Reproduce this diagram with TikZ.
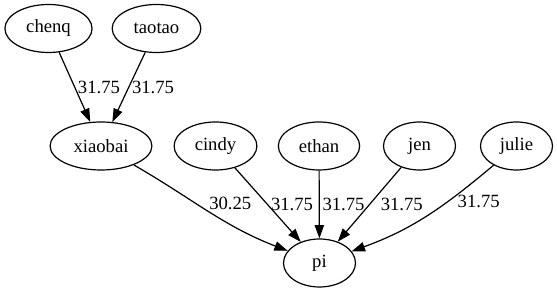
\documentclass[tikz,border=0pt]{standalone}
\usepackage{fontspec}
\setmainfont{Liberation Serif}
\usetikzlibrary{shapes.geometric,arrows.meta}

\tikzset{
  person/.style={draw, ellipse, minimum width=54pt, minimum height=36pt,
    inner xsep=6.4pt, inner ysep=4pt, font=\fontsize{14}{16}\selectfont},
  weight/.style={inner sep=2pt, font=\fontsize{14}{16}\selectfont},
}

\begin{document}
\begin{tikzpicture}[x=0.75pt, y=-0.75pt, line width=0.9pt, >={Triangle[length=10pt,width=7pt]}]
	\useasboundingbox (0,0) rectangle (557,291);
	% upper row
	\node[person] (chenq) at (48.5,28.5) {chenq};
	\node[person] (taotao) at (156.5,28.5) {taotao};
	% middle row
      \foreach \name/\x in {xiaobai/101, cindy/215.5, ethan/319, jen/419.5, julie/516.5}
	  {
	      \node[person] (\name) at (\x,146) {\name};
	  }
	\node[person] (pi) at (319.5,263) {pi};
	  \draw [->] (chenq) -- node[weight, right] {31.75} (xiaobai);
	  \draw [->] (taotao) -- node[weight, right] {31.75} (xiaobai);
	  \draw [->] (xiaobai) to[out=-30, in=159] node[weight, pos=0.42, right, xshift=6pt, yshift=1pt] {30.25} (pi);
	  \draw [->] (cindy) -- node[weight, right] {31.75} (pi);
	  \draw [->] (ethan) -- node[weight, right] {31.75} (pi);
	  \draw [->] (jen) -- node[weight, right, xshift=6pt] {31.75} (pi);
	  \draw [->] (julie) to[out=-140, in=20] node[weight, pos=0.4, right, xshift=11pt, yshift=4.5pt] {31.75} (pi);
    \end{tikzpicture}
\end{document}
